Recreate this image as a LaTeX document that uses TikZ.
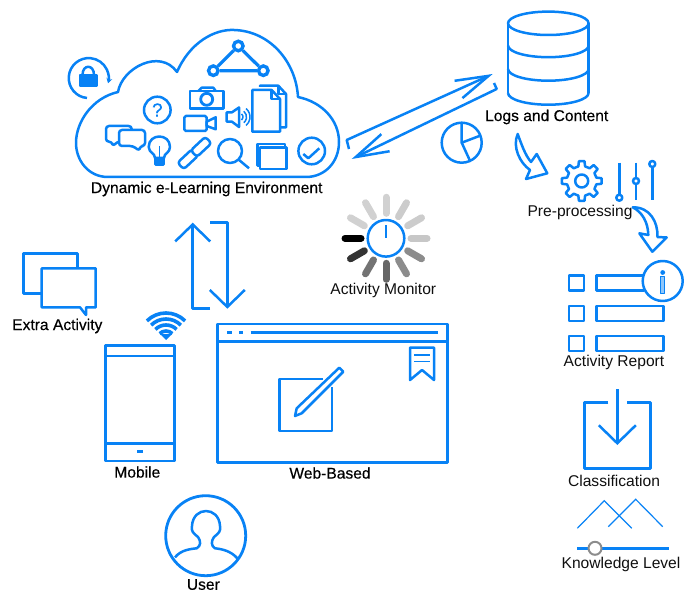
\documentclass[tikz,border=0pt]{standalone}
\usepackage{fontspec}
\setmainfont{Liberation Sans}
\newfontfamily\heavyfont[FakeBold=0.35]{Liberation Sans}
\usetikzlibrary{arrows.meta, calc}
\definecolor{iconblue}{RGB}{8, 130, 245}
\definecolor{labelgray}{RGB}{15, 15, 15}
\tikzset{
  icon/.style={draw=iconblue, line width=2.5pt, line join=round},
  thinicon/.style={draw=iconblue, line width=1.2pt},
  plainlabel/.style={text=labelgray, inner sep=0pt, font=\fontsize{15.6}{18}\selectfont},
  heavylabel/.style={text=black, inner sep=0pt, font=\fontsize{15.6}{18}\selectfont\heavyfont},
  netnode/.style={circle, draw=iconblue, line width=3.4pt, fill=white, minimum size=9.5pt, inner sep=0pt},
  sideflow/.style={icon, -{Straight Barb[length=33pt, width=19pt]}},
  updown/.style={icon, -{Straight Barb[length=17pt, width=35pt]}},
}

\begin{document}
\begin{tikzpicture}[x=1pt, y=-1pt]
  \useasboundingbox (0,0) rectangle (692,593);

  % Cloud outline
  \draw[icon] (108,177) .. controls (88,177) and (76,160) .. (76,143)
    .. controls (76,122) and (92,98) .. (118,92)
    .. controls (122,68) and (160,48) .. (177,72)
    .. controls (190,42) and (215,29) .. (234,30)
    .. controls (270,31) and (296,62) .. (298,97)
    .. controls (322,102) and (339,120) .. (339,142)
    .. controls (339,162) and (325,177) .. (306,177) -- cycle;

  % Lock with round arrow
  \draw[icon, -{Stealth[length=5pt, width=6pt]}] (87,98) arc[start angle=265, end angle=-15, radius=20pt];
  \draw[icon, fill=iconblue] (80,75) rectangle (96.7,86);
  \draw[icon] (82.5,75) .. controls (82.5,64) and (94,64) .. (94,75);

  % Network triangle
  \node[netnode] (nettop) at (238.3,46) {};
  \node[netnode] (netleft) at (213.3,70.7) {};
  \node[netnode] (netright) at (263.3,70.7) {};
  \draw[icon, line width=3.2pt] (nettop) -- (netleft) -- (netright) -- (nettop);

  % Question mark
  \node[circle, draw=iconblue, line width=2.5pt, minimum size=26.6pt, inner sep=0pt, text=iconblue, font=\fontsize{19}{19}\selectfont\heavyfont] (question) at (157.3,110) {?};

  % Camera
  \draw[icon] (190,91) rectangle (223.3,108.3);
  \draw[icon] (198.3,91) -- (201.7,87.7) -- (213.3,87.7) -- (215.7,91);
  \draw[icon, line width=2.8pt] (206.7,99.3) circle[radius=6pt];

  % Video camera
  \draw[icon, rounded corners=1.5pt] (184.3,116) rectangle (206.7,131);
  \draw[icon] (206.7,121.7) -- (215.7,117.3) -- (215.7,129.3) -- (206.7,126) -- cycle;

  % Speaker
  \draw[icon] (226.7,112.3) -- (232,112.3) -- (239,107.5) -- (239,127) -- (232,121.7) -- (226.7,121.7) -- cycle;
  \foreach \r in {4,7.5,11} {
    \draw[icon, line width=1.5pt] ([shift={(50:\r pt)}]239,117) arc[start angle=50, end angle=-50, radius=\r pt];
  }

  % Pages
  \draw[icon] (260,87) -- (260,85.7) -- (278.3,85.7) -- (286,94) -- (286,127.3) -- (280,127.3);
  \draw[icon] (278.3,85.7) -- (278.3,94) -- (286,94);
  \draw[icon] (252.3,90) -- (271.7,90) -- (280,99) -- (280,131.7) -- (252.3,131.7) -- cycle;
  \draw[icon] (271.7,90) -- (271.7,99) -- (280,99);

  % Chat bubbles
  \draw[icon, rounded corners=3pt] (106,126) -- (131.7,126) -- (131.7,141.7) -- (117,141.7) -- (113,146.5) -- (112,141.7) -- (106,141.7) -- cycle;
  \draw[icon, fill=white, rounded corners=3pt] (119,130) -- (145,130) -- (145,146) -- (140,146) -- (139.5,151) -- (133,146) -- (119,146) -- cycle;

  % Light bulb
  \draw[icon] (155,158) .. controls (155,153) and (149,153) .. (148.7,147) .. controls (148.7,133) and (170,133) .. (170,147) .. controls (170,153) and (164,153) .. (164,158) -- cycle;
  \draw[icon, line width=1.5pt] (159.4,146) -- (159.4,160);
  \draw[icon, fill=iconblue] (155.5,158.5) rectangle (163.5,164.5);

  % Chain link
  \begin{scope}[shift={(194.5,153)}, rotate=43]
    \draw[icon, rounded corners=3pt] (-19,-4.5) rectangle (1,4.5);
    \draw[icon, rounded corners=3pt, fill=white] (-1,-4.5) rectangle (19,4.5);
  \end{scope}

  % Magnifier
  \draw[icon] (230,151) circle[radius=12pt];
  \draw[icon] (238.5,159.5) -- (249,168.3);

  % Stacked windows
  \draw[icon] (285,147) -- (285,144) -- (257.3,144) -- (257.3,165.7) -- (260,165.7);
  \draw[icon] (260,147.3) rectangle (286.7,169);

  % Check mark
  \draw[icon] (311.7,151) circle[radius=13.3pt];
  \draw[icon] (303.3,154) -- (308.3,158.3) -- (319.3,148.3);

  \node[heavylabel] (envlabel) at (206.7,189) {Dynamic e-Learning Environment};

  % Database
  \draw[icon] (548.3,23.3) ellipse[x radius=40.3pt, y radius=11.7pt];
  \draw[icon] (508,23.3) -- (508,93);
  \draw[icon] (588.6,23.3) -- (588.6,93);
  \foreach \y in {45.5,69,93} {
    \draw[icon] (508,\y) arc[start angle=180, end angle=360, x radius=40.3pt, y radius=11.7pt];
  }
  \node[heavylabel] (logslabel) at (546.7,117) {Logs and Content};

  % Arrows between cloud and database
  \coordinate (envhook) at (349,149);
  \coordinate (envtail) at (346.7,140);
  \coordinate (logstip) at (492.7,74);
  \coordinate (logshook) at (494,83);
  \coordinate (logstail) at (496.7,89);
  \coordinate (envtip) at (351.7,159);
  \draw[sideflow] (envhook) -- (envtail) -- (logstip);
  \draw[sideflow] (logshook) -- (logstail) -- (envtip);

  % Pie chart
  \draw[icon] (461.7,142.7) circle[radius=20pt];
  \draw[icon] (461.7,122.7) -- (461.7,142.7) -- (479.3,136);
  \draw[icon] (461.7,142.7) -- (470,160.8);

  % Curved arrows
  \draw[icon] (517.7,134) .. controls (512,147) and (520,163) .. (530,170) -- (526,179) -- (547.3,173.3) -- (536.7,154) -- (531,162) .. controls (525,155) and (521,143) .. cycle;
  \draw[icon] (632.7,207.3) .. controls (650,207) and (658,222) .. (657.5,237) -- (666.7,237.5) -- (652.3,251.7) -- (639.3,233.3) -- (648.3,235) .. controls (648,222) and (642,212) .. cycle;

  % Gear and sliders
  \begin{scope}[shift={(581.7,181)}]
    \draw[icon] (-13:15pt) foreach \a in {0,45,...,315} { -- ({\a-13}:15pt) -- ({\a-8}:20pt) -- ({\a+8}:20pt) -- ({\a+13}:15pt) } -- cycle;
    \draw[icon] (0,0) circle[radius=6.5pt];
  \end{scope}
  \draw[icon] (619.3,162.7) -- (619.3,195);
  \draw[icon] (619.3,197.7) circle[radius=3pt];
  \draw[icon] (636,162.7) -- (636,178);
  \draw[icon] (636,184) -- (636,200);
  \draw[icon] (636,181) circle[radius=3pt];
  \draw[icon] (652.3,167) -- (652.3,200);
  \draw[icon] (652.3,164) circle[radius=3pt];
  \node[plainlabel] (prelabel) at (580,212.5) {Pre-processing};

  % Activity monitor
  \begin{scope}[shift={(386,238.3)}]
    \foreach \a/\g in {0/78,30/80,60/80,90/82,120/82,150/82,180/0,210/20,240/45,270/40,300/55,330/55} {
      \draw[line width=7pt, line cap=round, color=black!\the\numexpr100-\g\relax] (\a:25pt) -- (\a:41pt);
    }
    \draw[icon, fill=white] (0,0) circle[radius=18.3pt];
    \draw[icon] (0,-13) -- (0,0);
  \end{scope}
  \node[plainlabel] (monitorlabel) at (383.3,290.5) {Activity Monitor};

  % Arrows between cloud and clients
  \coordinate (uphook) at (210,308.7);
  \coordinate (uptail) at (192.7,308.7);
  \coordinate (uptip) at (192.7,222.7);
  \coordinate (downhook) at (210,222.7);
  \coordinate (downtail) at (227.3,222.7);
  \coordinate (downtip) at (227.3,308.7);
  \draw[updown] (uphook) -- (uptail) -- (uptip);
  \draw[updown] (downhook) -- (downtail) -- (downtip);

  % Extra activity
  \draw[icon] (41,293.3) -- (23.3,293.3) -- (23.3,253.3) -- (77.7,253.3) -- (77.7,268);
  \draw[icon] (41.7,268.3) -- (95.7,268.3) -- (95.7,307.3) -- (86,307.3) -- (86,315) -- (80,307.3) -- (41.7,307.3) -- cycle;
  \node[heavylabel] (extralabel) at (57.3,326) {Extra Activity};

  % Wifi
  \foreach \r in {9,15,21,27} {
    \draw[icon, line width=3.6pt] ([shift={(135:\r pt)}]166,340) arc[start angle=135, end angle=45, radius=\r pt];
  }
  \fill[iconblue] (166,340) -- (160,334) -- (172,334) -- cycle;

  % Mobile
  \draw[icon] (105.7,345.7) rectangle (174.7,461);
  \draw[icon] (105.7,356) -- (174.7,356);
  \draw[icon] (105.7,443.3) -- (174.7,443.3);
  \draw[icon] (137.3,451.7) -- (143.3,451.7);
  \node[heavylabel] (mobilelabel) at (137.3,472) {Mobile};

  % Web browser
  \draw[icon] (217.3,324) rectangle (447.7,462.3);
  \draw[icon] (217.3,341.7) -- (447.7,341.7);
  \draw[icon] (227.3,332.7) -- (231.7,332.7);
  \draw[icon] (239,332.7) -- (243.3,332.7);
  \draw[icon] (250.7,332.7) -- (438.3,332.7);
  \draw[icon] (410,347.7) -- (434,347.7) -- (434,380) -- (422,370) -- (410,380) -- cycle;
  \draw[icon, line width=1.5pt] (414.3,355) -- (430,355);
  \draw[icon, line width=1.5pt] (414.3,361.7) -- (430,361.7);
  \draw[icon] (323,379) -- (279.3,379) -- (279.3,431) -- (332,431) -- (332,387);
  \draw[icon] (339.3,367.7) -- (343.3,371.7) -- (301.7,413.3) -- (295,416) -- (296.7,408.3) -- cycle;
  \node[heavylabel] (weblabel) at (330,473) {Web-Based};

  % User
  \draw[icon, line width=2.8pt] (205.7,535.7) circle[radius=40pt];
  \draw[icon] (175,557.3) .. controls (181,550) and (190,549) .. (196.7,548.3)
    .. controls (201,546) and (201,541) .. (198,537)
    .. controls (193,533) and (191,531) .. (192,526)
    .. controls (193,506) and (219,506) .. (220,526)
    .. controls (221,531) and (219,533) .. (214,537)
    .. controls (211,541) and (211,546) .. (215,548.3)
    .. controls (222,549) and (231,551) .. (237.3,558.3);
  \node[heavylabel] (userlabel) at (203.3,584.5) {User};

  % Activity report
  \foreach \y/\w in {275.7/644,306/663.3,336/663.3} {
    \draw[icon] (569,\y) rectangle +(15,15);
    \draw[icon] (596.7,\y) rectangle (\w,\y+15);
  }
  \draw[icon, fill=white] (662.7,281) circle[radius=20pt];
  \draw[icon, line width=1.2pt, fill=iconblue!45] (660.8,276.7) rectangle (664.8,293.3);
  \fill[iconblue] (662.7,272.5) circle[radius=2.4pt];
  \node[plainlabel] (reportlabel) at (614,362.5) {Activity Report};

  % Classification
  \draw[icon] (608.3,402.7) -- (584.3,402.7) -- (584.3,468.3) -- (650.7,468.3) -- (650.7,402.7) -- (626.7,402.7);
  \coordinate (classtop) at (617.3,389.3);
  \coordinate (classtip) at (617.3,445);
  \draw[icon, -{Straight Barb[length=18pt, width=37pt]}] (classtop) -- (classtip);
  \node[plainlabel] (classlabel) at (614,480.5) {Classification};

  % Knowledge level
  \draw[thinicon] (577.3,528.3) -- (604.3,500.7) -- (631.7,528.3);
  \draw[thinicon] (608.3,526.7) -- (635.7,499.3) -- (662.7,526.7);
  \draw[icon, line width=2.8pt] (577.3,548.3) -- (669.3,548.3);
  \draw[draw=black!45, fill=white, line width=2pt] (595,548.3) circle[radius=6.5pt];
  \node[plainlabel] (levellabel) at (621,564) {Knowledge Level};
\end{tikzpicture}
\end{document}
